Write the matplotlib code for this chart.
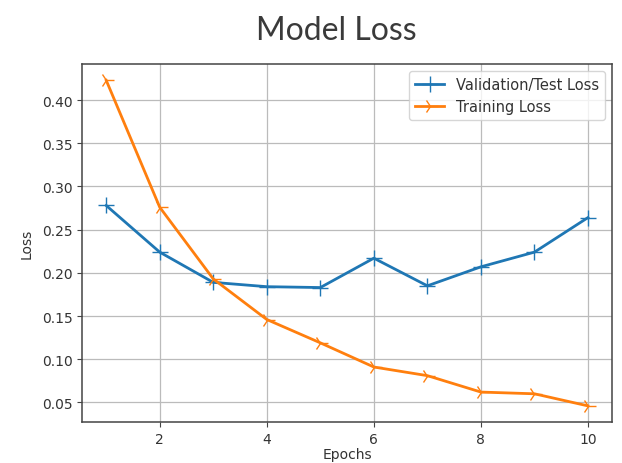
#plot of model loss per epoch, validation/test against training
import matplotlib.pyplot as plt

epochs = [1, 2, 3, 4, 5, 6, 7, 8, 9, 10]
val_loss = [0.278, 0.224, 0.189, 0.184, 0.183, 0.217, 0.185, 0.207, 0.224, 0.264]
train_loss = [0.423, 0.276, 0.193, 0.146, 0.119, 0.091, 0.081, 0.062, 0.060, 0.046]

fig = plt.figure(figsize=(6.22, 4.64), dpi=100)
ax = fig.add_axes([0.132, 0.088, 0.852, 0.772])

ax.plot(epochs, val_loss, marker='+', markersize=11, linewidth=2,
        color='#1f77b4', label='Validation/Test Loss')
ax.plot(epochs, train_loss, marker='4', markersize=11, linewidth=2,
        color='#ff7f0e', label='Training Loss')

ax.grid(True, color='#bbbbbb', linewidth=0.9)
ax.tick_params(labelsize=10, labelcolor='#333333', color='#444444')
ax.set_xticks([2, 4, 6, 8, 10])
ax.set_ylabel('Loss', fontsize=10, color='#333333', labelpad=6)
ax.set_xlabel('Epochs', fontsize=10, color='#333333', labelpad=1)
for s in ax.spines.values():
    s.set_color('#444444')
    s.set_linewidth(1.1)
leg = ax.legend(loc='upper right', fontsize=10.5)
for t in leg.get_texts():
    t.set_color('#333333')

fig.text(0.54, 0.933, 'Model Loss', family='Lato', fontweight='normal',
         fontsize=23, color='#3a3a3a', ha='center', va='center')

plt.savefig('out.png', dpi=100)
